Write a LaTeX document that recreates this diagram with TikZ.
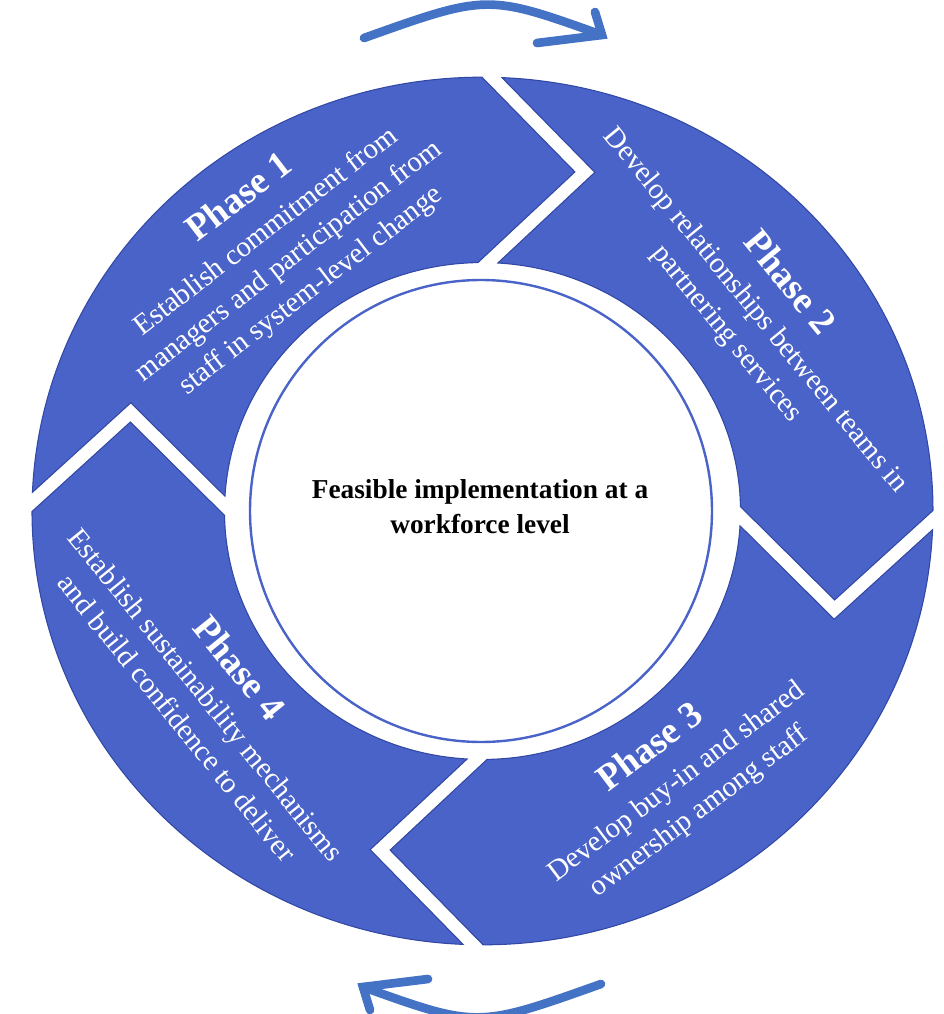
\documentclass[tikz,border=0pt]{standalone}
\usepackage{fontspec}
\setmainfont{Liberation Serif}
\usetikzlibrary{calc,arrows.meta}

\definecolor{phaseblue}{RGB}{74,99,200}
\definecolor{phaseedge}{RGB}{50,72,165}
\definecolor{arrowblue}{RGB}{68,114,196}

\newcommand{\phasehead}[1]{{\fontsize{28}{30}\selectfont\bfseries #1}\\[2.5pt]}

\begin{document}
\begin{tikzpicture}[
  x=0.75pt, y=0.75pt,
  line cap=round, line join=round,
  phase/.style={fill=phaseblue, draw=phaseedge, line width=0.8pt, line join=miter},
  phasetext/.style={text=white, align=center, anchor=base, font=\fontsize{21.75}{27.75}\selectfont},
  cyclearrow/.style={draw=arrowblue, line width=6.5pt, line cap=round, line join=miter}
]
\useasboundingbox (-482.5,-503) rectangle (460.5,511);

% 外环：四段箭头形环块
\def\rout{450.5} \def\rin{258} \def\rmid{354}
\def\gapw{10} \def\tipd{95}
\pgfmathsetmacro\aout{asin(\gapw/\rout)}
\pgfmathsetmacro\ain{asin(\gapw/\rin)}
\pgfmathsetmacro\atip{atan2(\gapw-\tipd,\rmid)}
\pgfmathsetmacro\rtip{veclen(\rmid,\gapw-\tipd)}
\pgfmathsetmacro\anotch{atan2(-\gapw-\tipd,\rmid)}
\pgfmathsetmacro\rnotch{veclen(\rmid,\gapw+\tipd)}
\begin{scope}[yscale=0.963]
\foreach \s/\e in {178.8/88.8, 88.8/-1.2, -1.2/-91.2, -91.2/-181.2} {
  \filldraw[phase]
    ({\s-\aout}:\rout) arc[start angle={\s-\aout}, end angle={\e+\aout}, radius=\rout]
    -- ({\e+\atip}:\rtip) -- ({\e+\ain}:\rin)
    arc[start angle={\e+\ain}, end angle={\s-\ain}, radius=\rin]
    -- ({\s+\anotch}:\rnotch) -- cycle;
}
\end{scope}

% 中心圆
\draw[draw=phaseblue, line width=1.8pt, fill=white] (-1.5,0) circle[radius=231];
\node[font=\fontsize{20.5}{26.25}\selectfont\bfseries, align=center, anchor=base] (goal)
  at (-2.5,-22) {Feasible implementation at a\\workforce level};

% 各阶段文字（base 取最后一行基线）
\node[phasetext, rotate=37.5] (phase1) at (-166.9,214.3)
  {\phasehead{Phase 1}Establish commitment from\\managers and participation from\\staff in system-level change};
\node[phasetext, rotate=-50.6] (phase2) at (238.4,172.3)
  {\phasehead{Phase 2}Develop relationships between teams in\\partnering services};
\node[phasetext, rotate=37] (phase3) at (221,-306.8)
  {\phasehead{Phase 3}Develop buy-in and shared\\ownership among staff};
\node[phasetext, rotate=-51] (phase4) at (-312.9,-213.1)
  {\phasehead{Phase 4}Establish sustainability mechanisms\\and build confidence to deliver};

% 上下两个循环箭头
\foreach \r in {0,180} {
  \begin{scope}[rotate=\r]
    \draw[cyclearrow] (-118.5,473) .. controls (5,517) .. (119.5,476);
    \draw[cyclearrow] (54.5,468) -- (119.5,476) -- (112.5,499);
  \end{scope}
}
\end{tikzpicture}
\end{document}
